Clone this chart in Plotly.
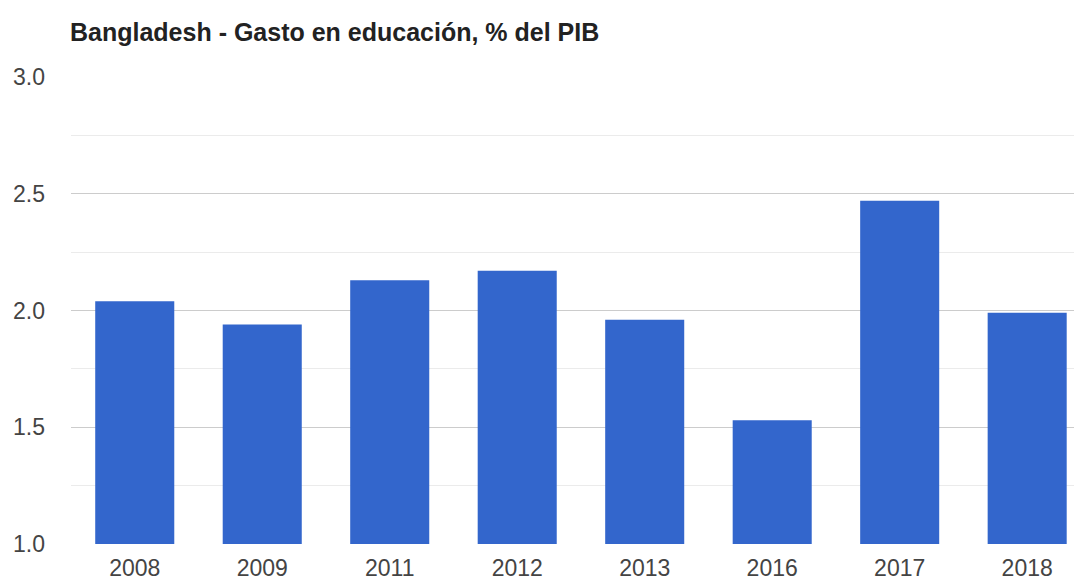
import plotly.graph_objects as go

years = ["2008", "2009", "2011", "2012", "2013", "2016", "2017", "2018"]
values = [2.04, 1.94, 2.13, 2.17, 1.96, 1.53, 2.47, 1.99]
y_ticks = [1.0, 1.5, 2.0, 2.5, 3.0]
y_tick_labels = ["1.0", "1.5", "2.0", "2.5", "3.0"]
title = "Bangladesh - Gasto en educación, % del PIB"

W, H = 1074, 575

fig = go.Figure(go.Bar(x=years, y=values, marker=dict(color="#3366cc", line=dict(width=0)),
                       hoverinfo="x+y"))

fig.update_layout(
    width=W, height=H,
    margin=dict(l=63, r=0, t=69, b=39),
    paper_bgcolor="white", plot_bgcolor="white",
    bargap=0.38,
    showlegend=False,
    font=dict(family="Liberation Sans, Arial, sans-serif", size=23, color="#444444"),
    title=dict(text="<b>" + title + "</b>", x=62 / W, xanchor="left", xref="container",
               y=1 - 24 / H, yanchor="middle", yref="container",
               font=dict(family="Liberation Sans, Arial, sans-serif", size=25, color="#222222")),
)

fig.update_xaxes(type="category", range=[-0.5, 7.43], showgrid=False, showline=False,
                 zeroline=False, ticks="", tickfont=dict(size=23, color="#444444"),
                 ticklabelstandoff=8, automargin=False)
fig.update_yaxes(range=[1.0, 3.0], tickvals=y_ticks, ticktext=y_tick_labels,
                 showgrid=True, gridcolor="#cccccc", gridwidth=1.3, zeroline=False,
                 showline=False, ticks="", tickfont=dict(size=23, color="#444444"),
                 ticklabelstandoff=25, automargin=False,
                 minor=dict(tickvals=[1.25, 1.75, 2.25, 2.75], showgrid=True,
                            gridcolor="#ebebeb", gridwidth=1.3))

fig.write_html("out.html")
